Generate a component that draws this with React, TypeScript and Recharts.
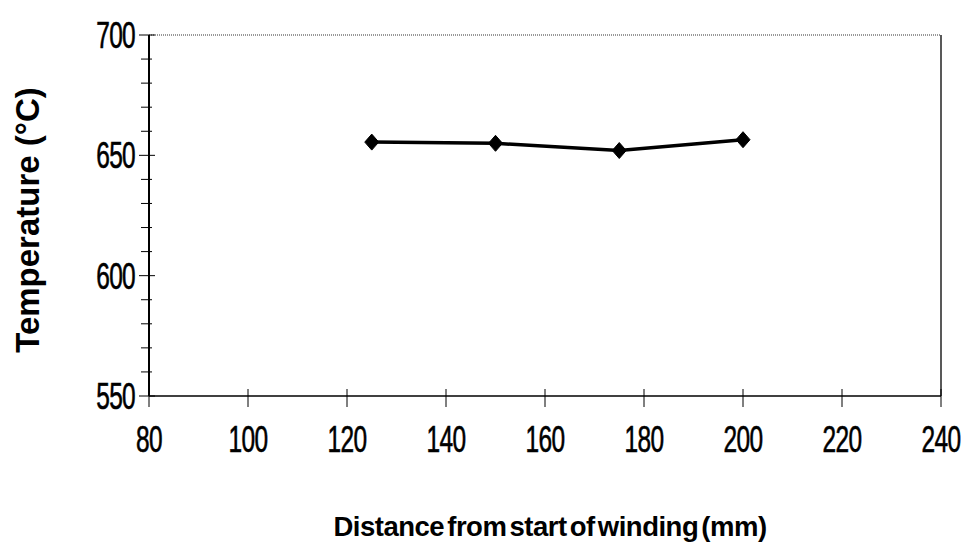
import { LineChart, Line, XAxis, YAxis, ReferenceLine } from 'recharts';

const distances = [125, 150, 175, 200];
const temperatures = [655.5, 655, 652, 656.5];
const xTicks = [80, 100, 120, 140, 160, 180, 200, 220, 240];
const yTicks = [550, 560, 570, 580, 590, 600, 610, 620, 630, 640, 650, 660, 670, 680, 690, 700];

const data = distances.map((d, i) => ({ distance: d, temp: temperatures[i] }));

const tickFont = "'Liberation Sans', Arial, sans-serif";

const Diamond = (props: any) => {
  const { cx, cy } = props;
  if (cx == null || cy == null) return null;
  return (
    <path
      d={`M${cx},${cy - 8} L${cx + 7},${cy} L${cx},${cy + 8} L${cx - 7},${cy} Z`}
      fill="#000"
      stroke="#000"
    />
  );
};

// condensed-looking digits: squeeze horizontally
const TickText = ({ x, y, anchor, value }: any) => (
  <text
    transform={`translate(${x},${y}) scale(0.68,1)`}
    textAnchor={anchor}
    fontFamily={tickFont}
    fontSize={36}
    letterSpacing={-1}
    fill="#000"
    stroke="#000"
    strokeWidth={0.6}
  >
    {value}
  </text>
);

const YTick = (props: any) => {
  const { x, y, payload } = props;
  const v = payload.value;
  const major = v % 50 === 0;
  const ax = x + 6;
  return (
    <g>
      <line x1={ax - (major ? 8 : 6)} x2={ax + (major ? 8 : 5)} y1={y} y2={y} stroke="#000" strokeWidth={1} />
      {major && <TickText x={ax - 12} y={y + 13} anchor="end" value={v} />}
    </g>
  );
};

const XTick = (props: any) => {
  const { x, y, payload } = props;
  const ay = y - 6;
  return (
    <g>
      <line x1={x} x2={x} y1={ay - 9} y2={ay + 9} stroke="#000" strokeWidth={1} />
      <TickText x={x} y={ay + 54} anchor="middle" value={payload.value} />
    </g>
  );
};

export default function App() {
  return (
    <div style={{ position: 'absolute', left: 0, top: 0, width: 969, height: 546, background: '#fff' }}>
      <LineChart width={969} height={546} data={data} margin={{ top: 35, right: 28, bottom: 90, left: 89 }}>
        <XAxis
          dataKey="distance"
          type="number"
          domain={[80, 240]}
          ticks={xTicks}
          interval={0}
          height={60}
          axisLine={{ stroke: '#000', strokeWidth: 1.5 }}
          tickLine={false}
          tick={<XTick />}
        />
        <YAxis
          type="number"
          domain={[550, 700]}
          ticks={yTicks}
          interval={0}
          width={60}
          axisLine={{ stroke: '#000', strokeWidth: 2 }}
          tickLine={false}
          tick={<YTick />}
        />
        <ReferenceLine y={700} stroke="#777" strokeWidth={1.5} strokeDasharray="1 1" />
        <ReferenceLine x={240} stroke="#222" strokeWidth={1.5} />
        <Line
          dataKey="temp"
          stroke="#000"
          strokeWidth={3.5}
          dot={<Diamond />}
          activeDot={false}
          isAnimationActive={false}
        />
      </LineChart>
      <div
        style={{
          position: 'absolute',
          left: 28,
          top: 220,
          transform: 'translate(-50%, -50%) rotate(-90deg)',
          whiteSpace: 'nowrap',
          fontFamily: "'Liberation Sans', Arial, sans-serif",
          fontWeight: 'bold',
          fontSize: 33,
        }}
      >
        Temperature (°C)
      </div>
      <div
        style={{
          position: 'absolute',
          left: 550,
          top: 527,
          transform: 'translate(-50%, -50%)',
          whiteSpace: 'nowrap',
          fontFamily: "'Liberation Sans', Arial, sans-serif",
          fontWeight: 'bold',
          fontSize: 27.5,
          letterSpacing: -0.5,
          wordSpacing: -4,
        }}
      >
        Distance from start of winding (mm)
      </div>
    </div>
  );
}
